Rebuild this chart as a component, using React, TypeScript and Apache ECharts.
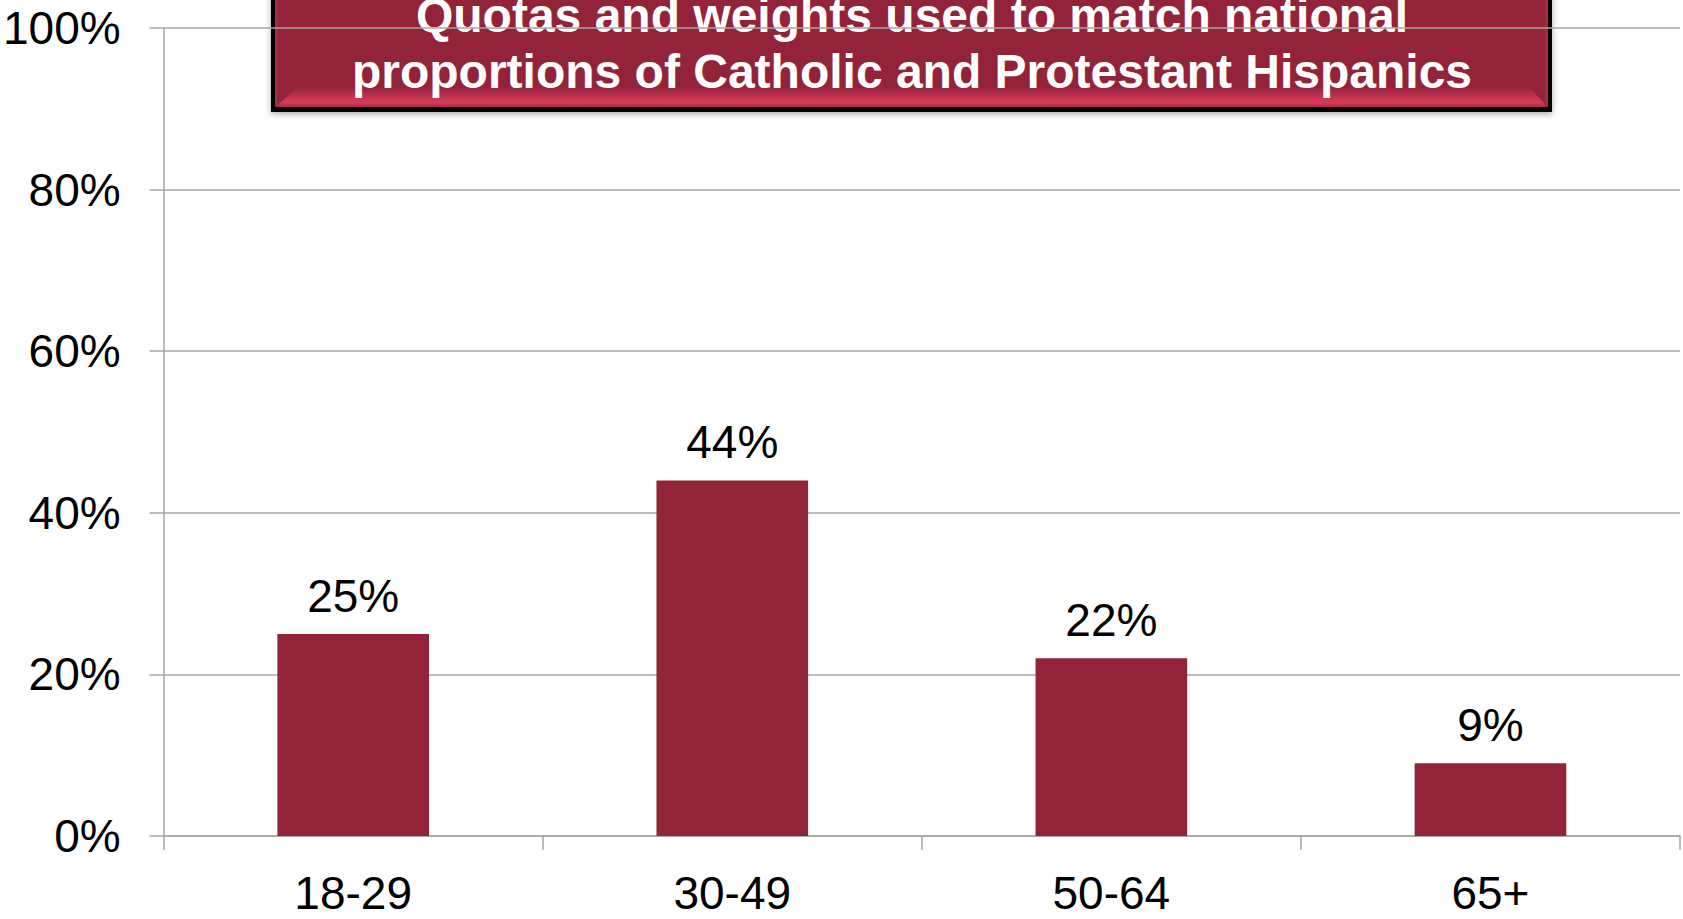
import React, { useEffect, useRef } from "react";
import * as echarts from "echarts";

const categories = ["18-29", "30-49", "50-64", "65+"];
const values = [25, 44, 22, 9];
const yTicks = { min: 0, max: 100, interval: 20 };
const titleLines = [
  "Quotas and weights used to match national",
  "proportions of Catholic and Protestant Hispanics",
];

const FONT = '"Liberation Sans", Arial, sans-serif';
const BAR = "#922339";
const GRID = "#a6a6a6";

export default function App() {
  const ref = useRef<HTMLDivElement>(null);
  useEffect(() => {
    if (!ref.current) return;
    const chart = echarts.init(ref.current, null, { renderer: "svg" });
    chart.setOption({
      animation: false,
      backgroundColor: "#ffffff",
      grid: { left: 163, right: 3, top: 28, bottom: 83, containLabel: false },
      xAxis: {
        type: "category",
        data: categories,
        axisLine: { show: true, lineStyle: { color: GRID, width: 1.5 } },
        axisTick: { show: true, length: 14, lineStyle: { color: GRID, width: 1.5 } },
        axisLabel: { color: "#000", fontSize: 46, fontFamily: FONT, margin: 34 },
        splitLine: { show: false },
      },
      yAxis: {
        type: "value",
        min: yTicks.min,
        max: yTicks.max,
        interval: yTicks.interval,
        axisLine: { show: true, lineStyle: { color: GRID, width: 1.5 } },
        axisTick: { show: true, length: 14, lineStyle: { color: GRID, width: 1.5 } },
        axisLabel: {
          color: "#000",
          fontSize: 46,
          fontFamily: FONT,
          margin: 43,
          formatter: "{value}%",
        },
        splitLine: { show: true, lineStyle: { color: GRID, width: 1.5 } },
      },
      series: [
        {
          type: "bar",
          data: values,
          barWidth: "40%",
          itemStyle: { color: BAR },
          label: {
            show: true,
            position: "top",
            distance: 15,
            color: "#000",
            fontSize: 46,
            fontFamily: FONT,
            formatter: "{c}%",
          },
        },
      ],
      graphic: [
        {
          type: "group",
          z: 100,
          children: [
            {
              type: "rect",
              shape: { x: 271, y: -30, width: 1281, height: 142 },
              style: { fill: "#000", shadowBlur: 6, shadowColor: "rgba(0,0,0,0.35)", shadowOffsetY: 2 },
            },
            {
              type: "rect",
              shape: { x: 275, y: -30, width: 1273, height: 137 },
              style: { fill: BAR },
            },
            {
              type: "polygon",
              shape: {
                points: [
                  [275, 107],
                  [297, 88],
                  [1530, 88],
                  [1548, 107],
                ],
              },
              style: {
                fill: {
                  type: "linear",
                  x: 0,
                  y: 0,
                  x2: 0,
                  y2: 1,
                  colorStops: [
                    { offset: 0, color: "#9a2540" },
                    { offset: 0.75, color: "#d83c5a" },
                    { offset: 1, color: "#a82944" },
                  ],
                },
              },
            },
            {
              type: "rect",
              shape: { x: 275, y: -30, width: 3, height: 137 },
              style: { fill: "#a52b45" },
            },
            {
              type: "rect",
              shape: { x: 1545, y: -30, width: 3, height: 137 },
              style: { fill: "#a52b45" },
            },
            {
              type: "text",
              x: 912,
              y: 39,
              style: {
                text: titleLines[0],
                fill: "#fff",
                font: `bold 48px ${FONT}`,
                textAlign: "center",
                textVerticalAlign: "bottom",
              },
            },
            {
              type: "text",
              x: 912,
              y: 95,
              style: {
                text: titleLines[1],
                fill: "#fff",
                font: `bold 48px ${FONT}`,
                textAlign: "center",
                textVerticalAlign: "bottom",
              },
            },
          ],
        },
      ],
    });
    return () => chart.dispose();
  }, []);
  return (
    <div
      ref={ref}
      style={{ position: "fixed", left: 0, top: 0, width: 1683, height: 919, background: "#fff" }}
    />
  );
}
